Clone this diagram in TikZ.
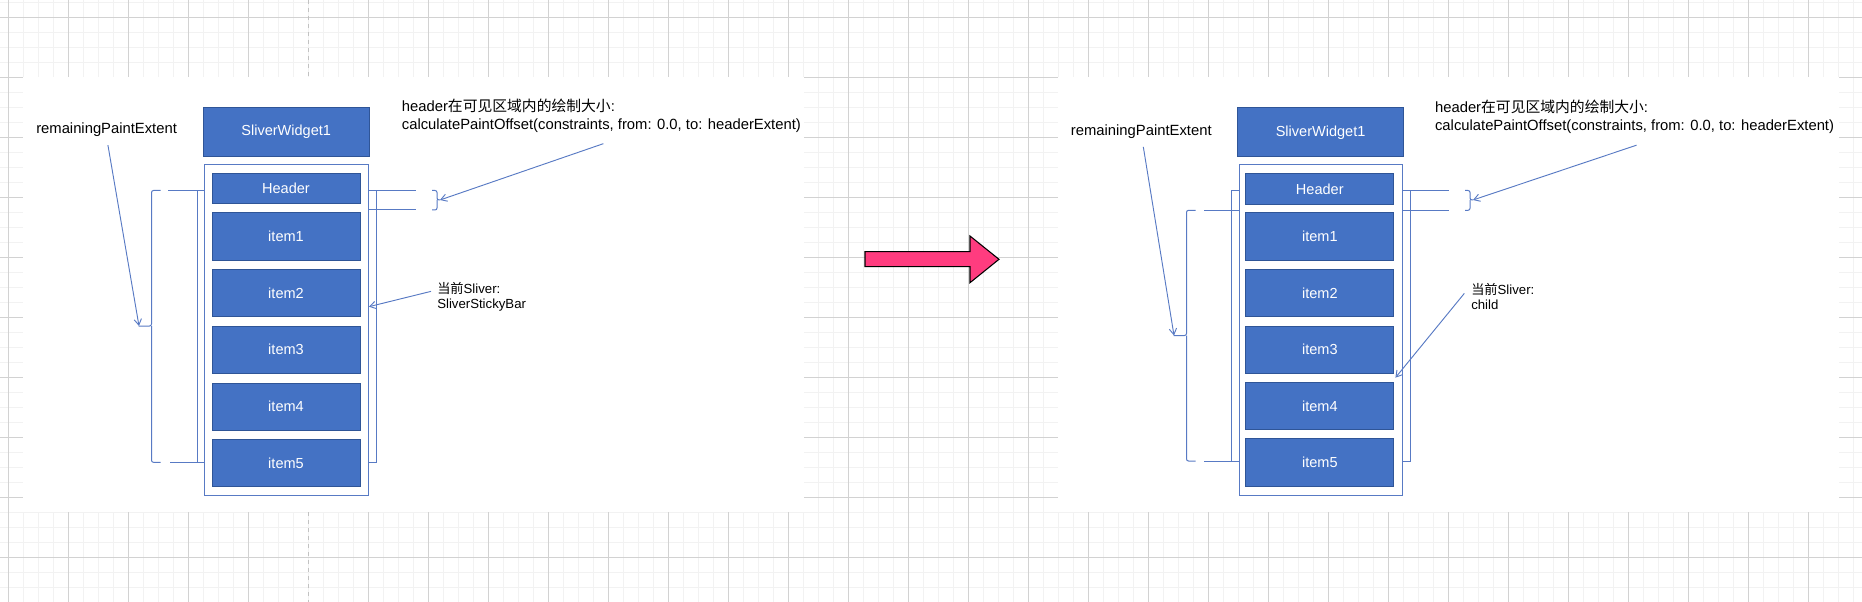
\documentclass[tikz,border=0pt]{standalone}
\usepackage{fontspec}
\setmainfont{Liberation Sans}
\newfontfamily\cjk{Noto Sans CJK SC}
\usetikzlibrary{arrows.meta}

\definecolor{gridminor}{RGB}{242,242,242}
\definecolor{gridmajor}{RGB}{210,210,210}
\definecolor{boxfill}{RGB}{68,114,196}
\definecolor{boxline}{RGB}{47,85,151}
\definecolor{linecol}{RGB}{88,122,196}
\definecolor{arrowpink}{RGB}{255,60,127}

\tikzset{
  slvbox/.style={draw=boxline, line width=0.6pt, fill=boxfill, text=white,
    inner sep=0pt, minimum width=111pt, font=\fontsize{10.9}{13}\selectfont},
  listbox/.style={draw=linecol, line width=0.8pt, fill=white, inner sep=0pt,
    minimum width=122.7pt, minimum height=247.7pt},
  extline/.style={draw=linecol, line width=0.75pt},
  bracket/.style={draw=linecol, line width=0.75pt, rounded corners=1.5pt},
  callout/.style={draw=linecol, line width=0.7pt, -{Straight Barb[length=4.5pt,width=5.5pt]}},
  bigtext/.style={inner sep=0pt, align=left, font=\fontsize{11.1}{13.2}\selectfont},
  smalltext/.style={inner sep=0pt, align=left, font=\fontsize{9.9}{11.5}\selectfont},
}

\begin{document}
\begin{tikzpicture}[x=0.75pt, y=-0.75pt]
  \useasboundingbox (0,0) rectangle (1862,602);

  % Draw the background grid
  \fill[white] (0,0) rectangle (1862,602);
  \foreach \x in {-6.7,8.3,...,1870}
    \draw[gridminor, line width=1.1pt] (\x,0) -- (\x,602);
  \foreach \y in {2.3,17.3,...,610}
    \draw[gridminor, line width=1.1pt] (0,\y) -- (1862,\y);
  \foreach \x in {8.3,68.3,128.3,188.3,248.3}
    \draw[gridmajor, line width=0.75pt] (\x,0) -- (\x,602);
  \foreach \x in {368.3,428.3,...,1870}
    \draw[gridmajor, line width=0.75pt] (\x,0) -- (\x,602);
  \foreach \y in {17.3,77.3,...,610}
    \draw[gridmajor, line width=0.75pt] (0,\y) -- (1862,\y);
  \draw[gridmajor!80!gray, line width=0.75pt, dashed] (308.3,0) -- (308.3,602);

  % White panels
  \fill[white] (23,77) rectangle (804,512);
  \fill[white] (1058,77) rectangle (1839,512);

  % Left panel: SliverStickyBar
  \node[slvbox, minimum width=124.3pt, minimum height=36.8pt] (lsw) at (286.2,131.5) {SliverWidget1};
  \draw[extline] (197.3,190.5) rectangle (376.7,462.3);
  \draw[extline] (168,190.5) -- (205,190.5);
  \draw[extline] (170,462.3) -- (205,462.3);
  \draw[extline] (368.3,210) -- (416,210);
  \draw[extline] (368.3,190.5) -- (416,190.5);
  \node[listbox] (llist) at (286.5,329.9) {};
  \node[slvbox, minimum height=22.8pt] (lhd) at (286,188.5) {Header};
  \foreach \i/\y in {1/236.2,2/293,3/349.7,4/406.7,5/463}
    \node[slvbox, minimum height=35.6pt] (l\i) at (286,\y) {item\i};

  % brackets
  \draw[bracket] (160.5,190.5) -- (151.5,190.5) -- (151.5,326) -- (138.5,326);
  \draw[bracket] (151.5,326) -- (151.5,462.3) -- (160.5,462.3);
  \coordinate (lbrtip) at (139,326);
  \draw[bracket] (432,190.5) -- (437,190.5) -- (437,200) -- (440,200);
  \draw[bracket] (437,200) -- (437,210) -- (432,210);
  \coordinate (lhdtip) at (440,200);

  % labels
  \node[bigtext, anchor=west] (lrem) at (36,130) {remainingPaintExtent};
  \node[bigtext, anchor=west] (lhl) at (401.6,115.5)
    {header{\cjk 在可见区域内的绘制大小}:\\calculatePaintOffset(constraints, from: 0.0, to: headerExtent)};
  \node[smalltext, anchor=west] (lsl) at (437,296.7) {{\cjk 当前}Sliver:\\SliverStickyBar};

  \draw[callout] ([xshift=1pt, yshift=-6pt]lrem.south) -- (lbrtip);
  \draw[callout] ([xshift=1.5pt, yshift=-8.5pt]lhl.south) -- (lhdtip);
  \draw[callout] ([xshift=-4.5pt, yshift=4pt]lsl.west) -- ([yshift=17.4pt]llist.east);

  % Arrow between panels
  \draw[black, line width=0.8pt, fill=arrowpink]
    (865,251.7) -- (970,251.7) -- (970,236) -- (999,259.3) -- (970,282.7)
    -- (970,266.7) -- (865,266.7) -- cycle;

  % Right panel: child
  \begin{scope}[shift={(1034,0)}]
    \node[slvbox, minimum width=124.3pt, minimum height=36.8pt] (rsw) at (286.6,132.3) {SliverWidget1};
    \draw[extline] (197.8,190.5) rectangle (376,461);
    \draw[extline] (170.3,210.3) -- (205.5,210.3);
    \draw[extline] (170.3,461) -- (205.5,461);
    \draw[extline] (368.7,190.5) -- (415.3,190.5);
    \draw[extline] (368.7,210.3) -- (415.3,210.3);
    \node[listbox] (rlist) at (287.1,330.1) {};
    \node[slvbox, minimum height=22.8pt] (rhd) at (285.8,189) {Header};
    \foreach \i/\y in {1/236.5,2/293,3/349.7,4/406,5/462.4}
      \node[slvbox, minimum height=35.6pt] (r\i) at (285.8,\y) {item\i};

    % brackets
    \draw[bracket] (161.5,210.3) -- (152.5,210.3) -- (152.5,335.5) -- (139.5,335.5);
    \draw[bracket] (152.5,335.5) -- (152.5,461) -- (161.5,461);
    \coordinate (rbrtip) at (140,335.5);
    \draw[bracket] (431,190.5) -- (436,190.5) -- (436,200) -- (439,200);
    \draw[bracket] (436,200) -- (436,210.3) -- (431,210.3);
    \coordinate (rhdtip) at (439,200);
    \coordinate (rslend) at (361.4,377.7);

    % labels
    \node[bigtext, anchor=west] (rrem) at (36.7,131.7) {remainingPaintExtent};
    \node[bigtext, anchor=west] (rhl) at (400.8,117)
      {header{\cjk 在可见区域内的绘制大小}:\\calculatePaintOffset(constraints, from: 0.0, to: headerExtent)};
    \node[smalltext, anchor=west] (rsl) at (437,296.7) {{\cjk 当前}Sliver:\\child};

    \draw[callout] ([xshift=1.5pt, yshift=-6pt]rrem.south) -- (rbrtip);
    \draw[callout] ([xshift=1.5pt, yshift=-8.5pt]rhl.south) -- (rhdtip);
    \draw[callout] ([xshift=-5pt, yshift=2.5pt]rsl.west) -- (rslend);
  \end{scope}
\end{tikzpicture}
\end{document}
